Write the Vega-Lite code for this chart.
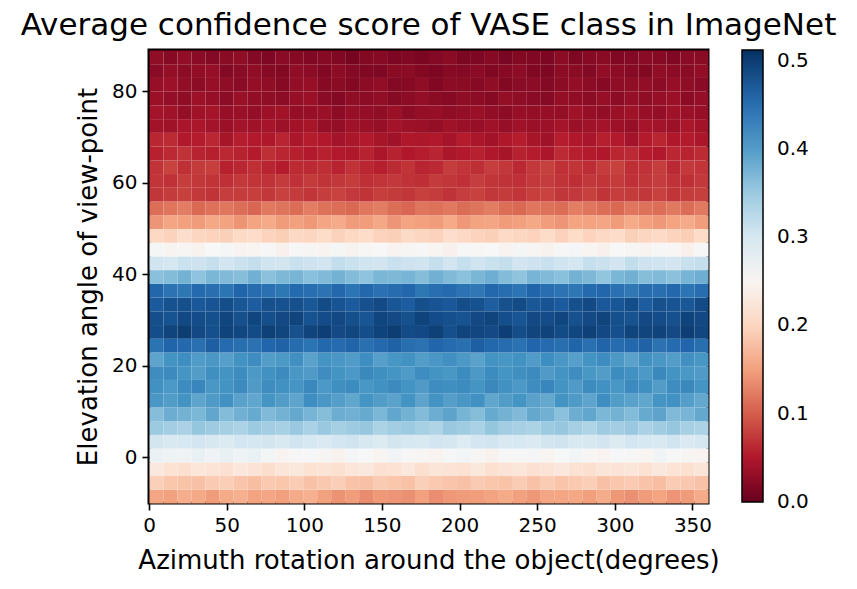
{
"$schema":"https://vega.github.io/schema/vega-lite/v6.json",
"autosize":{"type":"none"},
"padding":{"left":149,"top":50,"right":149,"bottom":86},
"width":559,"height":453,
"background":"white",
"title":{"text":"Average confidence score of VASE class in ImageNet","fontSize":31,"font":"DejaVu Sans","fontWeight":"normal","color":"black","anchor":"middle","offset":8},
"config":{"view":{"stroke":"black","strokeWidth":3},
"axis":{"domain":false,"grid":false,"tickColor":"black","tickWidth":1.6,"tickSize":7,"labelFont":"DejaVu Sans","labelFontSize":20,"labelColor":"black","titleFont":"DejaVu Sans","titleFontSize":26,"titleFontWeight":"normal","titleColor":"black","labelFlush":false,"labelOverlap":false,"labelPadding":5}},
"data":{"values":[
{"az":0,"el":-10,"s":0.155},{"az":9,"el":-10,"s":0.151},{"az":18,"el":-10,"s":0.161},{"az":27,"el":-10,"s":0.157},{"az":36,"el":-10,"s":0.146},{"az":45,"el":-10,"s":0.158},{"az":54,"el":-10,"s":0.163},{"az":63,"el":-10,"s":0.152},{"az":72,"el":-10,"s":0.155},{"az":81,"el":-10,"s":0.149},{"az":90,"el":-10,"s":0.159},{"az":99,"el":-10,"s":0.164},{"az":108,"el":-10,"s":0.151},{"az":117,"el":-10,"s":0.140},{"az":126,"el":-10,"s":0.148},{"az":135,"el":-10,"s":0.134},{"az":144,"el":-10,"s":0.145},{"az":153,"el":-10,"s":0.142},{"az":162,"el":-10,"s":0.139},{"az":171,"el":-10,"s":0.150},{"az":180,"el":-10,"s":0.136},{"az":189,"el":-10,"s":0.144},{"az":198,"el":-10,"s":0.146},{"az":207,"el":-10,"s":0.148},{"az":216,"el":-10,"s":0.152},{"az":225,"el":-10,"s":0.158},{"az":234,"el":-10,"s":0.150},{"az":243,"el":-10,"s":0.144},{"az":252,"el":-10,"s":0.155},{"az":261,"el":-10,"s":0.154},{"az":270,"el":-10,"s":0.156},{"az":279,"el":-10,"s":0.149},{"az":288,"el":-10,"s":0.160},{"az":297,"el":-10,"s":0.144},{"az":306,"el":-10,"s":0.138},{"az":315,"el":-10,"s":0.147},{"az":324,"el":-10,"s":0.153},{"az":333,"el":-10,"s":0.142},{"az":342,"el":-10,"s":0.147},{"az":351,"el":-10,"s":0.159},
{"az":0,"el":-7,"s":0.194},{"az":9,"el":-7,"s":0.185},{"az":18,"el":-7,"s":0.182},{"az":27,"el":-7,"s":0.179},{"az":36,"el":-7,"s":0.189},{"az":45,"el":-7,"s":0.193},{"az":54,"el":-7,"s":0.183},{"az":63,"el":-7,"s":0.177},{"az":72,"el":-7,"s":0.188},{"az":81,"el":-7,"s":0.185},{"az":90,"el":-7,"s":0.191},{"az":99,"el":-7,"s":0.181},{"az":108,"el":-7,"s":0.187},{"az":117,"el":-7,"s":0.193},{"az":126,"el":-7,"s":0.182},{"az":135,"el":-7,"s":0.179},{"az":144,"el":-7,"s":0.189},{"az":153,"el":-7,"s":0.185},{"az":162,"el":-7,"s":0.181},{"az":171,"el":-7,"s":0.194},{"az":180,"el":-7,"s":0.188},{"az":189,"el":-7,"s":0.183},{"az":198,"el":-7,"s":0.179},{"az":207,"el":-7,"s":0.189},{"az":216,"el":-7,"s":0.185},{"az":225,"el":-7,"s":0.182},{"az":234,"el":-7,"s":0.191},{"az":243,"el":-7,"s":0.181},{"az":252,"el":-7,"s":0.191},{"az":261,"el":-7,"s":0.183},{"az":270,"el":-7,"s":0.188},{"az":279,"el":-7,"s":0.193},{"az":288,"el":-7,"s":0.179},{"az":297,"el":-7,"s":0.185},{"az":306,"el":-7,"s":0.189},{"az":315,"el":-7,"s":0.182},{"az":324,"el":-7,"s":0.177},{"az":333,"el":-7,"s":0.191},{"az":342,"el":-7,"s":0.187},{"az":351,"el":-7,"s":0.181},
{"az":0,"el":-4,"s":0.229},{"az":9,"el":-4,"s":0.218},{"az":18,"el":-4,"s":0.212},{"az":27,"el":-4,"s":0.224},{"az":36,"el":-4,"s":0.220},{"az":45,"el":-4,"s":0.216},{"az":54,"el":-4,"s":0.226},{"az":63,"el":-4,"s":0.222},{"az":72,"el":-4,"s":0.211},{"az":81,"el":-4,"s":0.223},{"az":90,"el":-4,"s":0.228},{"az":99,"el":-4,"s":0.217},{"az":108,"el":-4,"s":0.220},{"az":117,"el":-4,"s":0.214},{"az":126,"el":-4,"s":0.224},{"az":135,"el":-4,"s":0.229},{"az":144,"el":-4,"s":0.216},{"az":153,"el":-4,"s":0.218},{"az":162,"el":-4,"s":0.226},{"az":171,"el":-4,"s":0.212},{"az":180,"el":-4,"s":0.223},{"az":189,"el":-4,"s":0.220},{"az":198,"el":-4,"s":0.217},{"az":207,"el":-4,"s":0.228},{"az":216,"el":-4,"s":0.214},{"az":225,"el":-4,"s":0.222},{"az":234,"el":-4,"s":0.224},{"az":243,"el":-4,"s":0.216},{"az":252,"el":-4,"s":0.220},{"az":261,"el":-4,"s":0.226},{"az":270,"el":-4,"s":0.218},{"az":279,"el":-4,"s":0.212},{"az":288,"el":-4,"s":0.223},{"az":297,"el":-4,"s":0.222},{"az":306,"el":-4,"s":0.224},{"az":315,"el":-4,"s":0.217},{"az":324,"el":-4,"s":0.228},{"az":333,"el":-4,"s":0.220},{"az":342,"el":-4,"s":0.214},{"az":351,"el":-4,"s":0.223},
{"az":0,"el":-1,"s":0.274},{"az":9,"el":-1,"s":0.270},{"az":18,"el":-1,"s":0.267},{"az":27,"el":-1,"s":0.276},{"az":36,"el":-1,"s":0.266},{"az":45,"el":-1,"s":0.276},{"az":54,"el":-1,"s":0.268},{"az":63,"el":-1,"s":0.273},{"az":72,"el":-1,"s":0.263},{"az":81,"el":-1,"s":0.249},{"az":90,"el":-1,"s":0.255},{"az":99,"el":-1,"s":0.259},{"az":108,"el":-1,"s":0.252},{"az":117,"el":-1,"s":0.247},{"az":126,"el":-1,"s":0.261},{"az":135,"el":-1,"s":0.257},{"az":144,"el":-1,"s":0.251},{"az":153,"el":-1,"s":0.264},{"az":162,"el":-1,"s":0.255},{"az":171,"el":-1,"s":0.252},{"az":180,"el":-1,"s":0.249},{"az":189,"el":-1,"s":0.259},{"az":198,"el":-1,"s":0.263},{"az":207,"el":-1,"s":0.253},{"az":216,"el":-1,"s":0.247},{"az":225,"el":-1,"s":0.258},{"az":234,"el":-1,"s":0.255},{"az":243,"el":-1,"s":0.261},{"az":252,"el":-1,"s":0.251},{"az":261,"el":-1,"s":0.257},{"az":270,"el":-1,"s":0.263},{"az":279,"el":-1,"s":0.252},{"az":288,"el":-1,"s":0.249},{"az":297,"el":-1,"s":0.259},{"az":306,"el":-1,"s":0.255},{"az":315,"el":-1,"s":0.251},{"az":324,"el":-1,"s":0.264},{"az":333,"el":-1,"s":0.258},{"az":342,"el":-1,"s":0.253},{"az":351,"el":-1,"s":0.249},
{"az":0,"el":2,"s":0.304},{"az":9,"el":2,"s":0.296},{"az":18,"el":2,"s":0.300},{"az":27,"el":2,"s":0.306},{"az":36,"el":2,"s":0.298},{"az":45,"el":2,"s":0.292},{"az":54,"el":2,"s":0.303},{"az":63,"el":2,"s":0.302},{"az":72,"el":2,"s":0.304},{"az":81,"el":2,"s":0.297},{"az":90,"el":2,"s":0.308},{"az":99,"el":2,"s":0.300},{"az":108,"el":2,"s":0.294},{"az":117,"el":2,"s":0.303},{"az":126,"el":2,"s":0.309},{"az":135,"el":2,"s":0.298},{"az":144,"el":2,"s":0.292},{"az":153,"el":2,"s":0.304},{"az":162,"el":2,"s":0.300},{"az":171,"el":2,"s":0.296},{"az":180,"el":2,"s":0.306},{"az":189,"el":2,"s":0.302},{"az":198,"el":2,"s":0.291},{"az":207,"el":2,"s":0.303},{"az":216,"el":2,"s":0.308},{"az":225,"el":2,"s":0.297},{"az":234,"el":2,"s":0.300},{"az":243,"el":2,"s":0.294},{"az":252,"el":2,"s":0.304},{"az":261,"el":2,"s":0.309},{"az":270,"el":2,"s":0.296},{"az":279,"el":2,"s":0.298},{"az":288,"el":2,"s":0.306},{"az":297,"el":2,"s":0.292},{"az":306,"el":2,"s":0.303},{"az":315,"el":2,"s":0.300},{"az":324,"el":2,"s":0.297},{"az":333,"el":2,"s":0.308},{"az":342,"el":2,"s":0.294},{"az":351,"el":2,"s":0.302},
{"az":0,"el":5,"s":0.351},{"az":9,"el":5,"s":0.345},{"az":18,"el":5,"s":0.339},{"az":27,"el":5,"s":0.357},{"az":36,"el":5,"s":0.349},{"az":45,"el":5,"s":0.343},{"az":54,"el":5,"s":0.337},{"az":63,"el":5,"s":0.351},{"az":72,"el":5,"s":0.345},{"az":81,"el":5,"s":0.341},{"az":90,"el":5,"s":0.353},{"az":99,"el":5,"s":0.339},{"az":108,"el":5,"s":0.353},{"az":117,"el":5,"s":0.343},{"az":126,"el":5,"s":0.349},{"az":135,"el":5,"s":0.355},{"az":144,"el":5,"s":0.337},{"az":153,"el":5,"s":0.345},{"az":162,"el":5,"s":0.351},{"az":171,"el":5,"s":0.341},{"az":180,"el":5,"s":0.335},{"az":189,"el":5,"s":0.353},{"az":198,"el":5,"s":0.347},{"az":207,"el":5,"s":0.339},{"az":216,"el":5,"s":0.357},{"az":225,"el":5,"s":0.345},{"az":234,"el":5,"s":0.341},{"az":243,"el":5,"s":0.337},{"az":252,"el":5,"s":0.351},{"az":261,"el":5,"s":0.355},{"az":270,"el":5,"s":0.343},{"az":279,"el":5,"s":0.335},{"az":288,"el":5,"s":0.349},{"az":297,"el":5,"s":0.345},{"az":306,"el":5,"s":0.353},{"az":315,"el":5,"s":0.339},{"az":324,"el":5,"s":0.347},{"az":333,"el":5,"s":0.355},{"az":342,"el":5,"s":0.341},{"az":351,"el":5,"s":0.337},
{"az":0,"el":8,"s":0.366},{"az":9,"el":8,"s":0.383},{"az":18,"el":8,"s":0.378},{"az":27,"el":8,"s":0.373},{"az":36,"el":8,"s":0.390},{"az":45,"el":8,"s":0.368},{"az":54,"el":8,"s":0.380},{"az":63,"el":8,"s":0.386},{"az":72,"el":8,"s":0.370},{"az":81,"el":8,"s":0.378},{"az":90,"el":8,"s":0.388},{"az":99,"el":8,"s":0.376},{"az":108,"el":8,"s":0.366},{"az":117,"el":8,"s":0.383},{"az":126,"el":8,"s":0.380},{"az":135,"el":8,"s":0.386},{"az":144,"el":8,"s":0.373},{"az":153,"el":8,"s":0.390},{"az":162,"el":8,"s":0.378},{"az":171,"el":8,"s":0.368},{"az":180,"el":8,"s":0.383},{"az":189,"el":8,"s":0.393},{"az":198,"el":8,"s":0.376},{"az":207,"el":8,"s":0.366},{"az":216,"el":8,"s":0.386},{"az":225,"el":8,"s":0.378},{"az":234,"el":8,"s":0.370},{"az":243,"el":8,"s":0.388},{"az":252,"el":8,"s":0.380},{"az":261,"el":8,"s":0.363},{"az":270,"el":8,"s":0.383},{"az":279,"el":8,"s":0.390},{"az":288,"el":8,"s":0.373},{"az":297,"el":8,"s":0.378},{"az":306,"el":8,"s":0.368},{"az":315,"el":8,"s":0.386},{"az":324,"el":8,"s":0.393},{"az":333,"el":8,"s":0.370},{"az":342,"el":8,"s":0.376},{"az":351,"el":8,"s":0.388},
{"az":0,"el":11,"s":0.405},{"az":9,"el":11,"s":0.400},{"az":18,"el":11,"s":0.410},{"az":27,"el":11,"s":0.392},{"az":36,"el":11,"s":0.402},{"az":45,"el":11,"s":0.412},{"az":54,"el":11,"s":0.395},{"az":63,"el":11,"s":0.390},{"az":72,"el":11,"s":0.408},{"az":81,"el":11,"s":0.400},{"az":90,"el":11,"s":0.392},{"az":99,"el":11,"s":0.415},{"az":108,"el":11,"s":0.405},{"az":117,"el":11,"s":0.398},{"az":126,"el":11,"s":0.390},{"az":135,"el":11,"s":0.408},{"az":144,"el":11,"s":0.400},{"az":153,"el":11,"s":0.395},{"az":162,"el":11,"s":0.410},{"az":171,"el":11,"s":0.392},{"az":180,"el":11,"s":0.410},{"az":189,"el":11,"s":0.398},{"az":198,"el":11,"s":0.405},{"az":207,"el":11,"s":0.412},{"az":216,"el":11,"s":0.390},{"az":225,"el":11,"s":0.400},{"az":234,"el":11,"s":0.408},{"az":243,"el":11,"s":0.395},{"az":252,"el":11,"s":0.388},{"az":261,"el":11,"s":0.410},{"az":270,"el":11,"s":0.402},{"az":279,"el":11,"s":0.392},{"az":288,"el":11,"s":0.415},{"az":297,"el":11,"s":0.400},{"az":306,"el":11,"s":0.395},{"az":315,"el":11,"s":0.390},{"az":324,"el":11,"s":0.408},{"az":333,"el":11,"s":0.412},{"az":342,"el":11,"s":0.398},{"az":351,"el":11,"s":0.388},
{"az":0,"el":14,"s":0.412},{"az":9,"el":14,"s":0.404},{"az":18,"el":14,"s":0.418},{"az":27,"el":14,"s":0.424},{"az":36,"el":14,"s":0.406},{"az":45,"el":14,"s":0.410},{"az":54,"el":14,"s":0.420},{"az":63,"el":14,"s":0.402},{"az":72,"el":14,"s":0.416},{"az":81,"el":14,"s":0.412},{"az":90,"el":14,"s":0.408},{"az":99,"el":14,"s":0.422},{"az":108,"el":14,"s":0.404},{"az":117,"el":14,"s":0.414},{"az":126,"el":14,"s":0.418},{"az":135,"el":14,"s":0.406},{"az":144,"el":14,"s":0.412},{"az":153,"el":14,"s":0.420},{"az":162,"el":14,"s":0.410},{"az":171,"el":14,"s":0.402},{"az":180,"el":14,"s":0.416},{"az":189,"el":14,"s":0.414},{"az":198,"el":14,"s":0.418},{"az":207,"el":14,"s":0.408},{"az":216,"el":14,"s":0.422},{"az":225,"el":14,"s":0.412},{"az":234,"el":14,"s":0.404},{"az":243,"el":14,"s":0.416},{"az":252,"el":14,"s":0.424},{"az":261,"el":14,"s":0.410},{"az":270,"el":14,"s":0.402},{"az":279,"el":14,"s":0.418},{"az":288,"el":14,"s":0.412},{"az":297,"el":14,"s":0.406},{"az":306,"el":14,"s":0.420},{"az":315,"el":14,"s":0.414},{"az":324,"el":14,"s":0.400},{"az":333,"el":14,"s":0.416},{"az":342,"el":14,"s":0.422},{"az":351,"el":14,"s":0.408},
{"az":0,"el":17,"s":0.416},{"az":9,"el":17,"s":0.420},{"az":18,"el":17,"s":0.408},{"az":27,"el":17,"s":0.400},{"az":36,"el":17,"s":0.414},{"az":45,"el":17,"s":0.410},{"az":54,"el":17,"s":0.418},{"az":63,"el":17,"s":0.404},{"az":72,"el":17,"s":0.412},{"az":81,"el":17,"s":0.420},{"az":90,"el":17,"s":0.406},{"az":99,"el":17,"s":0.402},{"az":108,"el":17,"s":0.416},{"az":117,"el":17,"s":0.410},{"az":126,"el":17,"s":0.404},{"az":135,"el":17,"s":0.422},{"az":144,"el":17,"s":0.414},{"az":153,"el":17,"s":0.408},{"az":162,"el":17,"s":0.402},{"az":171,"el":17,"s":0.416},{"az":180,"el":17,"s":0.410},{"az":189,"el":17,"s":0.406},{"az":198,"el":17,"s":0.418},{"az":207,"el":17,"s":0.404},{"az":216,"el":17,"s":0.418},{"az":225,"el":17,"s":0.408},{"az":234,"el":17,"s":0.414},{"az":243,"el":17,"s":0.420},{"az":252,"el":17,"s":0.402},{"az":261,"el":17,"s":0.410},{"az":270,"el":17,"s":0.416},{"az":279,"el":17,"s":0.406},{"az":288,"el":17,"s":0.400},{"az":297,"el":17,"s":0.418},{"az":306,"el":17,"s":0.412},{"az":315,"el":17,"s":0.404},{"az":324,"el":17,"s":0.422},{"az":333,"el":17,"s":0.410},{"az":342,"el":17,"s":0.406},{"az":351,"el":17,"s":0.402},
{"az":0,"el":20,"s":0.393},{"az":9,"el":20,"s":0.409},{"az":18,"el":20,"s":0.415},{"az":27,"el":20,"s":0.401},{"az":36,"el":20,"s":0.405},{"az":45,"el":20,"s":0.397},{"az":54,"el":20,"s":0.411},{"az":63,"el":20,"s":0.417},{"az":72,"el":20,"s":0.399},{"az":81,"el":20,"s":0.403},{"az":90,"el":20,"s":0.413},{"az":99,"el":20,"s":0.395},{"az":108,"el":20,"s":0.409},{"az":117,"el":20,"s":0.405},{"az":126,"el":20,"s":0.401},{"az":135,"el":20,"s":0.415},{"az":144,"el":20,"s":0.397},{"az":153,"el":20,"s":0.407},{"az":162,"el":20,"s":0.411},{"az":171,"el":20,"s":0.399},{"az":180,"el":20,"s":0.405},{"az":189,"el":20,"s":0.413},{"az":198,"el":20,"s":0.403},{"az":207,"el":20,"s":0.395},{"az":216,"el":20,"s":0.409},{"az":225,"el":20,"s":0.407},{"az":234,"el":20,"s":0.411},{"az":243,"el":20,"s":0.401},{"az":252,"el":20,"s":0.415},{"az":261,"el":20,"s":0.405},{"az":270,"el":20,"s":0.397},{"az":279,"el":20,"s":0.409},{"az":288,"el":20,"s":0.417},{"az":297,"el":20,"s":0.403},{"az":306,"el":20,"s":0.395},{"az":315,"el":20,"s":0.411},{"az":324,"el":20,"s":0.405},{"az":333,"el":20,"s":0.399},{"az":342,"el":20,"s":0.413},{"az":351,"el":20,"s":0.407},
{"az":0,"el":23,"s":0.445},{"az":9,"el":23,"s":0.463},{"az":18,"el":23,"s":0.457},{"az":27,"el":23,"s":0.449},{"az":36,"el":23,"s":0.467},{"az":45,"el":23,"s":0.455},{"az":54,"el":23,"s":0.451},{"az":63,"el":23,"s":0.447},{"az":72,"el":23,"s":0.461},{"az":81,"el":23,"s":0.465},{"az":90,"el":23,"s":0.453},{"az":99,"el":23,"s":0.445},{"az":108,"el":23,"s":0.459},{"az":117,"el":23,"s":0.455},{"az":126,"el":23,"s":0.463},{"az":135,"el":23,"s":0.449},{"az":144,"el":23,"s":0.457},{"az":153,"el":23,"s":0.465},{"az":162,"el":23,"s":0.451},{"az":171,"el":23,"s":0.447},{"az":180,"el":23,"s":0.461},{"az":189,"el":23,"s":0.455},{"az":198,"el":23,"s":0.449},{"az":207,"el":23,"s":0.467},{"az":216,"el":23,"s":0.459},{"az":225,"el":23,"s":0.453},{"az":234,"el":23,"s":0.447},{"az":243,"el":23,"s":0.461},{"az":252,"el":23,"s":0.455},{"az":261,"el":23,"s":0.451},{"az":270,"el":23,"s":0.463},{"az":279,"el":23,"s":0.449},{"az":288,"el":23,"s":0.463},{"az":297,"el":23,"s":0.453},{"az":306,"el":23,"s":0.459},{"az":315,"el":23,"s":0.465},{"az":324,"el":23,"s":0.447},{"az":333,"el":23,"s":0.455},{"az":342,"el":23,"s":0.461},{"az":351,"el":23,"s":0.451},
{"az":0,"el":26,"s":0.484},{"az":9,"el":26,"s":0.493},{"az":18,"el":26,"s":0.499},{"az":27,"el":26,"s":0.488},{"az":36,"el":26,"s":0.482},{"az":45,"el":26,"s":0.494},{"az":54,"el":26,"s":0.490},{"az":63,"el":26,"s":0.486},{"az":72,"el":26,"s":0.496},{"az":81,"el":26,"s":0.492},{"az":90,"el":26,"s":0.481},{"az":99,"el":26,"s":0.493},{"az":108,"el":26,"s":0.498},{"az":117,"el":26,"s":0.487},{"az":126,"el":26,"s":0.490},{"az":135,"el":26,"s":0.484},{"az":144,"el":26,"s":0.494},{"az":153,"el":26,"s":0.499},{"az":162,"el":26,"s":0.486},{"az":171,"el":26,"s":0.488},{"az":180,"el":26,"s":0.496},{"az":189,"el":26,"s":0.482},{"az":198,"el":26,"s":0.493},{"az":207,"el":26,"s":0.490},{"az":216,"el":26,"s":0.487},{"az":225,"el":26,"s":0.498},{"az":234,"el":26,"s":0.484},{"az":243,"el":26,"s":0.492},{"az":252,"el":26,"s":0.494},{"az":261,"el":26,"s":0.486},{"az":270,"el":26,"s":0.490},{"az":279,"el":26,"s":0.496},{"az":288,"el":26,"s":0.488},{"az":297,"el":26,"s":0.482},{"az":306,"el":26,"s":0.493},{"az":315,"el":26,"s":0.492},{"az":324,"el":26,"s":0.494},{"az":333,"el":26,"s":0.487},{"az":342,"el":26,"s":0.498},{"az":351,"el":26,"s":0.490},
{"az":0,"el":29,"s":0.483},{"az":9,"el":29,"s":0.479},{"az":18,"el":29,"s":0.489},{"az":27,"el":29,"s":0.485},{"az":36,"el":29,"s":0.482},{"az":45,"el":29,"s":0.491},{"az":54,"el":29,"s":0.481},{"az":63,"el":29,"s":0.491},{"az":72,"el":29,"s":0.483},{"az":81,"el":29,"s":0.488},{"az":90,"el":29,"s":0.493},{"az":99,"el":29,"s":0.479},{"az":108,"el":29,"s":0.485},{"az":117,"el":29,"s":0.489},{"az":126,"el":29,"s":0.482},{"az":135,"el":29,"s":0.477},{"az":144,"el":29,"s":0.491},{"az":153,"el":29,"s":0.487},{"az":162,"el":29,"s":0.481},{"az":171,"el":29,"s":0.494},{"az":180,"el":29,"s":0.485},{"az":189,"el":29,"s":0.482},{"az":198,"el":29,"s":0.479},{"az":207,"el":29,"s":0.489},{"az":216,"el":29,"s":0.493},{"az":225,"el":29,"s":0.483},{"az":234,"el":29,"s":0.477},{"az":243,"el":29,"s":0.488},{"az":252,"el":29,"s":0.485},{"az":261,"el":29,"s":0.491},{"az":270,"el":29,"s":0.481},{"az":279,"el":29,"s":0.487},{"az":288,"el":29,"s":0.493},{"az":297,"el":29,"s":0.482},{"az":306,"el":29,"s":0.479},{"az":315,"el":29,"s":0.489},{"az":324,"el":29,"s":0.485},{"az":333,"el":29,"s":0.481},{"az":342,"el":29,"s":0.494},{"az":351,"el":29,"s":0.488},
{"az":0,"el":32,"s":0.472},{"az":9,"el":32,"s":0.480},{"az":18,"el":32,"s":0.482},{"az":27,"el":32,"s":0.474},{"az":36,"el":32,"s":0.478},{"az":45,"el":32,"s":0.484},{"az":54,"el":32,"s":0.476},{"az":63,"el":32,"s":0.470},{"az":72,"el":32,"s":0.481},{"az":81,"el":32,"s":0.480},{"az":90,"el":32,"s":0.482},{"az":99,"el":32,"s":0.475},{"az":108,"el":32,"s":0.486},{"az":117,"el":32,"s":0.478},{"az":126,"el":32,"s":0.472},{"az":135,"el":32,"s":0.481},{"az":144,"el":32,"s":0.487},{"az":153,"el":32,"s":0.476},{"az":162,"el":32,"s":0.470},{"az":171,"el":32,"s":0.482},{"az":180,"el":32,"s":0.478},{"az":189,"el":32,"s":0.474},{"az":198,"el":32,"s":0.484},{"az":207,"el":32,"s":0.480},{"az":216,"el":32,"s":0.469},{"az":225,"el":32,"s":0.481},{"az":234,"el":32,"s":0.486},{"az":243,"el":32,"s":0.475},{"az":252,"el":32,"s":0.478},{"az":261,"el":32,"s":0.472},{"az":270,"el":32,"s":0.482},{"az":279,"el":32,"s":0.487},{"az":288,"el":32,"s":0.474},{"az":297,"el":32,"s":0.476},{"az":306,"el":32,"s":0.484},{"az":315,"el":32,"s":0.470},{"az":324,"el":32,"s":0.481},{"az":333,"el":32,"s":0.478},{"az":342,"el":32,"s":0.475},{"az":351,"el":32,"s":0.486},
{"az":0,"el":35,"s":0.460},{"az":9,"el":35,"s":0.446},{"az":18,"el":35,"s":0.442},{"az":27,"el":35,"s":0.456},{"az":36,"el":35,"s":0.450},{"az":45,"el":35,"s":0.444},{"az":54,"el":35,"s":0.462},{"az":63,"el":35,"s":0.454},{"az":72,"el":35,"s":0.448},{"az":81,"el":35,"s":0.442},{"az":90,"el":35,"s":0.456},{"az":99,"el":35,"s":0.450},{"az":108,"el":35,"s":0.446},{"az":117,"el":35,"s":0.458},{"az":126,"el":35,"s":0.444},{"az":135,"el":35,"s":0.458},{"az":144,"el":35,"s":0.448},{"az":153,"el":35,"s":0.454},{"az":162,"el":35,"s":0.460},{"az":171,"el":35,"s":0.442},{"az":180,"el":35,"s":0.450},{"az":189,"el":35,"s":0.456},{"az":198,"el":35,"s":0.446},{"az":207,"el":35,"s":0.440},{"az":216,"el":35,"s":0.458},{"az":225,"el":35,"s":0.452},{"az":234,"el":35,"s":0.444},{"az":243,"el":35,"s":0.462},{"az":252,"el":35,"s":0.450},{"az":261,"el":35,"s":0.446},{"az":270,"el":35,"s":0.442},{"az":279,"el":35,"s":0.456},{"az":288,"el":35,"s":0.460},{"az":297,"el":35,"s":0.448},{"az":306,"el":35,"s":0.440},{"az":315,"el":35,"s":0.454},{"az":324,"el":35,"s":0.450},{"az":333,"el":35,"s":0.458},{"az":342,"el":35,"s":0.444},{"az":351,"el":35,"s":0.452},
{"az":0,"el":38,"s":0.364},{"az":9,"el":38,"s":0.368},{"az":18,"el":38,"s":0.378},{"az":27,"el":38,"s":0.360},{"az":36,"el":38,"s":0.374},{"az":45,"el":38,"s":0.370},{"az":54,"el":38,"s":0.366},{"az":63,"el":38,"s":0.380},{"az":72,"el":38,"s":0.362},{"az":81,"el":38,"s":0.372},{"az":90,"el":38,"s":0.376},{"az":99,"el":38,"s":0.364},{"az":108,"el":38,"s":0.370},{"az":117,"el":38,"s":0.378},{"az":126,"el":38,"s":0.368},{"az":135,"el":38,"s":0.360},{"az":144,"el":38,"s":0.374},{"az":153,"el":38,"s":0.372},{"az":162,"el":38,"s":0.376},{"az":171,"el":38,"s":0.366},{"az":180,"el":38,"s":0.380},{"az":189,"el":38,"s":0.370},{"az":198,"el":38,"s":0.362},{"az":207,"el":38,"s":0.374},{"az":216,"el":38,"s":0.382},{"az":225,"el":38,"s":0.368},{"az":234,"el":38,"s":0.360},{"az":243,"el":38,"s":0.376},{"az":252,"el":38,"s":0.370},{"az":261,"el":38,"s":0.364},{"az":270,"el":38,"s":0.378},{"az":279,"el":38,"s":0.372},{"az":288,"el":38,"s":0.358},{"az":297,"el":38,"s":0.374},{"az":306,"el":38,"s":0.380},{"az":315,"el":38,"s":0.366},{"az":324,"el":38,"s":0.370},{"az":333,"el":38,"s":0.362},{"az":342,"el":38,"s":0.376},{"az":351,"el":38,"s":0.382},
{"az":0,"el":41,"s":0.308},{"az":9,"el":41,"s":0.302},{"az":18,"el":41,"s":0.313},{"az":27,"el":41,"s":0.310},{"az":36,"el":41,"s":0.316},{"az":45,"el":41,"s":0.306},{"az":54,"el":41,"s":0.312},{"az":63,"el":41,"s":0.318},{"az":72,"el":41,"s":0.307},{"az":81,"el":41,"s":0.304},{"az":90,"el":41,"s":0.314},{"az":99,"el":41,"s":0.310},{"az":108,"el":41,"s":0.306},{"az":117,"el":41,"s":0.319},{"az":126,"el":41,"s":0.313},{"az":135,"el":41,"s":0.308},{"az":144,"el":41,"s":0.304},{"az":153,"el":41,"s":0.314},{"az":162,"el":41,"s":0.310},{"az":171,"el":41,"s":0.307},{"az":180,"el":41,"s":0.316},{"az":189,"el":41,"s":0.306},{"az":198,"el":41,"s":0.316},{"az":207,"el":41,"s":0.308},{"az":216,"el":41,"s":0.313},{"az":225,"el":41,"s":0.318},{"az":234,"el":41,"s":0.304},{"az":243,"el":41,"s":0.310},{"az":252,"el":41,"s":0.314},{"az":261,"el":41,"s":0.307},{"az":270,"el":41,"s":0.302},{"az":279,"el":41,"s":0.316},{"az":288,"el":41,"s":0.312},{"az":297,"el":41,"s":0.306},{"az":306,"el":41,"s":0.319},{"az":315,"el":41,"s":0.310},{"az":324,"el":41,"s":0.307},{"az":333,"el":41,"s":0.304},{"az":342,"el":41,"s":0.314},{"az":351,"el":41,"s":0.318},
{"az":0,"el":44,"s":0.260},{"az":9,"el":44,"s":0.249},{"az":18,"el":44,"s":0.252},{"az":27,"el":44,"s":0.246},{"az":36,"el":44,"s":0.256},{"az":45,"el":44,"s":0.261},{"az":54,"el":44,"s":0.248},{"az":63,"el":44,"s":0.250},{"az":72,"el":44,"s":0.258},{"az":81,"el":44,"s":0.244},{"az":90,"el":44,"s":0.255},{"az":99,"el":44,"s":0.252},{"az":108,"el":44,"s":0.249},{"az":117,"el":44,"s":0.260},{"az":126,"el":44,"s":0.246},{"az":135,"el":44,"s":0.254},{"az":144,"el":44,"s":0.256},{"az":153,"el":44,"s":0.248},{"az":162,"el":44,"s":0.252},{"az":171,"el":44,"s":0.258},{"az":180,"el":44,"s":0.250},{"az":189,"el":44,"s":0.244},{"az":198,"el":44,"s":0.255},{"az":207,"el":44,"s":0.254},{"az":216,"el":44,"s":0.256},{"az":225,"el":44,"s":0.249},{"az":234,"el":44,"s":0.260},{"az":243,"el":44,"s":0.252},{"az":252,"el":44,"s":0.246},{"az":261,"el":44,"s":0.255},{"az":270,"el":44,"s":0.261},{"az":279,"el":44,"s":0.250},{"az":288,"el":44,"s":0.244},{"az":297,"el":44,"s":0.256},{"az":306,"el":44,"s":0.252},{"az":315,"el":44,"s":0.248},{"az":324,"el":44,"s":0.258},{"az":333,"el":44,"s":0.254},{"az":342,"el":44,"s":0.243},{"az":351,"el":44,"s":0.255},
{"az":0,"el":47,"s":0.202},{"az":9,"el":47,"s":0.196},{"az":18,"el":47,"s":0.209},{"az":27,"el":47,"s":0.200},{"az":36,"el":47,"s":0.197},{"az":45,"el":47,"s":0.194},{"az":54,"el":47,"s":0.204},{"az":63,"el":47,"s":0.208},{"az":72,"el":47,"s":0.198},{"az":81,"el":47,"s":0.192},{"az":90,"el":47,"s":0.203},{"az":99,"el":47,"s":0.200},{"az":108,"el":47,"s":0.206},{"az":117,"el":47,"s":0.196},{"az":126,"el":47,"s":0.202},{"az":135,"el":47,"s":0.208},{"az":144,"el":47,"s":0.197},{"az":153,"el":47,"s":0.194},{"az":162,"el":47,"s":0.204},{"az":171,"el":47,"s":0.200},{"az":180,"el":47,"s":0.196},{"az":189,"el":47,"s":0.209},{"az":198,"el":47,"s":0.203},{"az":207,"el":47,"s":0.198},{"az":216,"el":47,"s":0.194},{"az":225,"el":47,"s":0.204},{"az":234,"el":47,"s":0.200},{"az":243,"el":47,"s":0.197},{"az":252,"el":47,"s":0.206},{"az":261,"el":47,"s":0.196},{"az":270,"el":47,"s":0.206},{"az":279,"el":47,"s":0.198},{"az":288,"el":47,"s":0.203},{"az":297,"el":47,"s":0.208},{"az":306,"el":47,"s":0.194},{"az":315,"el":47,"s":0.200},{"az":324,"el":47,"s":0.204},{"az":333,"el":47,"s":0.197},{"az":342,"el":47,"s":0.192},{"az":351,"el":47,"s":0.206},
{"az":0,"el":50,"s":0.142},{"az":9,"el":50,"s":0.154},{"az":18,"el":50,"s":0.150},{"az":27,"el":50,"s":0.146},{"az":36,"el":50,"s":0.156},{"az":45,"el":50,"s":0.152},{"az":54,"el":50,"s":0.141},{"az":63,"el":50,"s":0.153},{"az":72,"el":50,"s":0.158},{"az":81,"el":50,"s":0.147},{"az":90,"el":50,"s":0.150},{"az":99,"el":50,"s":0.144},{"az":108,"el":50,"s":0.154},{"az":117,"el":50,"s":0.159},{"az":126,"el":50,"s":0.146},{"az":135,"el":50,"s":0.148},{"az":144,"el":50,"s":0.156},{"az":153,"el":50,"s":0.142},{"az":162,"el":50,"s":0.153},{"az":171,"el":50,"s":0.150},{"az":180,"el":50,"s":0.147},{"az":189,"el":50,"s":0.158},{"az":198,"el":50,"s":0.144},{"az":207,"el":50,"s":0.152},{"az":216,"el":50,"s":0.154},{"az":225,"el":50,"s":0.146},{"az":234,"el":50,"s":0.150},{"az":243,"el":50,"s":0.156},{"az":252,"el":50,"s":0.148},{"az":261,"el":50,"s":0.142},{"az":270,"el":50,"s":0.153},{"az":279,"el":50,"s":0.152},{"az":288,"el":50,"s":0.154},{"az":297,"el":50,"s":0.147},{"az":306,"el":50,"s":0.158},{"az":315,"el":50,"s":0.150},{"az":324,"el":50,"s":0.144},{"az":333,"el":50,"s":0.153},{"az":342,"el":50,"s":0.159},{"az":351,"el":50,"s":0.148},
{"az":0,"el":53,"s":0.113},{"az":9,"el":53,"s":0.118},{"az":18,"el":53,"s":0.123},{"az":27,"el":53,"s":0.109},{"az":36,"el":53,"s":0.115},{"az":45,"el":53,"s":0.119},{"az":54,"el":53,"s":0.112},{"az":63,"el":53,"s":0.107},{"az":72,"el":53,"s":0.121},{"az":81,"el":53,"s":0.117},{"az":90,"el":53,"s":0.111},{"az":99,"el":53,"s":0.124},{"az":108,"el":53,"s":0.115},{"az":117,"el":53,"s":0.112},{"az":126,"el":53,"s":0.109},{"az":135,"el":53,"s":0.119},{"az":144,"el":53,"s":0.123},{"az":153,"el":53,"s":0.113},{"az":162,"el":53,"s":0.107},{"az":171,"el":53,"s":0.118},{"az":180,"el":53,"s":0.115},{"az":189,"el":53,"s":0.121},{"az":198,"el":53,"s":0.111},{"az":207,"el":53,"s":0.117},{"az":216,"el":53,"s":0.123},{"az":225,"el":53,"s":0.112},{"az":234,"el":53,"s":0.109},{"az":243,"el":53,"s":0.119},{"az":252,"el":53,"s":0.115},{"az":261,"el":53,"s":0.111},{"az":270,"el":53,"s":0.124},{"az":279,"el":53,"s":0.118},{"az":288,"el":53,"s":0.113},{"az":297,"el":53,"s":0.109},{"az":306,"el":53,"s":0.119},{"az":315,"el":53,"s":0.115},{"az":324,"el":53,"s":0.112},{"az":333,"el":53,"s":0.121},{"az":342,"el":53,"s":0.111},{"az":351,"el":53,"s":0.121},
{"az":0,"el":56,"s":0.073},{"az":9,"el":56,"s":0.076},{"az":18,"el":56,"s":0.080},{"az":27,"el":56,"s":0.075},{"az":36,"el":56,"s":0.071},{"az":45,"el":56,"s":0.078},{"az":54,"el":56,"s":0.077},{"az":63,"el":56,"s":0.079},{"az":72,"el":56,"s":0.074},{"az":81,"el":56,"s":0.081},{"az":90,"el":56,"s":0.076},{"az":99,"el":56,"s":0.072},{"az":108,"el":56,"s":0.078},{"az":117,"el":56,"s":0.082},{"az":126,"el":56,"s":0.075},{"az":135,"el":56,"s":0.071},{"az":144,"el":56,"s":0.079},{"az":153,"el":56,"s":0.076},{"az":162,"el":56,"s":0.073},{"az":171,"el":56,"s":0.080},{"az":180,"el":56,"s":0.077},{"az":189,"el":56,"s":0.070},{"az":198,"el":56,"s":0.078},{"az":207,"el":56,"s":0.081},{"az":216,"el":56,"s":0.074},{"az":225,"el":56,"s":0.076},{"az":234,"el":56,"s":0.072},{"az":243,"el":56,"s":0.079},{"az":252,"el":56,"s":0.082},{"az":261,"el":56,"s":0.073},{"az":270,"el":56,"s":0.075},{"az":279,"el":56,"s":0.080},{"az":288,"el":56,"s":0.071},{"az":297,"el":56,"s":0.078},{"az":306,"el":56,"s":0.076},{"az":315,"el":56,"s":0.074},{"az":324,"el":56,"s":0.081},{"az":333,"el":56,"s":0.072},{"az":342,"el":56,"s":0.077},{"az":351,"el":56,"s":0.079},
{"az":0,"el":59,"s":0.072},{"az":9,"el":59,"s":0.069},{"az":18,"el":59,"s":0.078},{"az":27,"el":59,"s":0.074},{"az":36,"el":59,"s":0.071},{"az":45,"el":59,"s":0.068},{"az":54,"el":59,"s":0.075},{"az":63,"el":59,"s":0.072},{"az":72,"el":59,"s":0.070},{"az":81,"el":59,"s":0.076},{"az":90,"el":59,"s":0.069},{"az":99,"el":59,"s":0.076},{"az":108,"el":59,"s":0.071},{"az":117,"el":59,"s":0.074},{"az":126,"el":59,"s":0.077},{"az":135,"el":59,"s":0.068},{"az":144,"el":59,"s":0.072},{"az":153,"el":59,"s":0.075},{"az":162,"el":59,"s":0.070},{"az":171,"el":59,"s":0.067},{"az":180,"el":59,"s":0.076},{"az":189,"el":59,"s":0.073},{"az":198,"el":59,"s":0.069},{"az":207,"el":59,"s":0.078},{"az":216,"el":59,"s":0.072},{"az":225,"el":59,"s":0.070},{"az":234,"el":59,"s":0.068},{"az":243,"el":59,"s":0.075},{"az":252,"el":59,"s":0.077},{"az":261,"el":59,"s":0.071},{"az":270,"el":59,"s":0.067},{"az":279,"el":59,"s":0.074},{"az":288,"el":59,"s":0.072},{"az":297,"el":59,"s":0.076},{"az":306,"el":59,"s":0.069},{"az":315,"el":59,"s":0.073},{"az":324,"el":59,"s":0.077},{"az":333,"el":59,"s":0.070},{"az":342,"el":59,"s":0.068},{"az":351,"el":59,"s":0.075},
{"az":0,"el":62,"s":0.071},{"az":9,"el":62,"s":0.082},{"az":18,"el":62,"s":0.068},{"az":27,"el":62,"s":0.076},{"az":36,"el":62,"s":0.079},{"az":45,"el":62,"s":0.057},{"az":54,"el":62,"s":0.062},{"az":63,"el":62,"s":0.068},{"az":72,"el":62,"s":0.060},{"az":81,"el":62,"s":0.054},{"az":90,"el":62,"s":0.065},{"az":99,"el":62,"s":0.064},{"az":108,"el":62,"s":0.067},{"az":117,"el":62,"s":0.059},{"az":126,"el":62,"s":0.070},{"az":135,"el":62,"s":0.062},{"az":144,"el":62,"s":0.056},{"az":153,"el":62,"s":0.065},{"az":162,"el":62,"s":0.071},{"az":171,"el":62,"s":0.060},{"az":180,"el":62,"s":0.064},{"az":189,"el":62,"s":0.077},{"az":198,"el":62,"s":0.072},{"az":207,"el":62,"s":0.067},{"az":216,"el":62,"s":0.078},{"az":225,"el":62,"s":0.074},{"az":234,"el":62,"s":0.063},{"az":243,"el":62,"s":0.075},{"az":252,"el":62,"s":0.080},{"az":261,"el":62,"s":0.069},{"az":270,"el":62,"s":0.072},{"az":279,"el":62,"s":0.066},{"az":288,"el":62,"s":0.077},{"az":297,"el":62,"s":0.081},{"az":306,"el":62,"s":0.067},{"az":315,"el":62,"s":0.070},{"az":324,"el":62,"s":0.078},{"az":333,"el":62,"s":0.064},{"az":342,"el":62,"s":0.075},{"az":351,"el":62,"s":0.072},
{"az":0,"el":65,"s":0.057},{"az":9,"el":65,"s":0.064},{"az":18,"el":65,"s":0.070},{"az":27,"el":65,"s":0.059},{"az":36,"el":65,"s":0.056},{"az":45,"el":65,"s":0.063},{"az":54,"el":65,"s":0.058},{"az":63,"el":65,"s":0.053},{"az":72,"el":65,"s":0.067},{"az":81,"el":65,"s":0.061},{"az":90,"el":65,"s":0.056},{"az":99,"el":65,"s":0.052},{"az":108,"el":65,"s":0.057},{"az":117,"el":65,"s":0.052},{"az":126,"el":65,"s":0.049},{"az":135,"el":65,"s":0.058},{"az":144,"el":65,"s":0.047},{"az":153,"el":65,"s":0.058},{"az":162,"el":65,"s":0.050},{"az":171,"el":65,"s":0.055},{"az":180,"el":65,"s":0.060},{"az":189,"el":65,"s":0.046},{"az":198,"el":65,"s":0.052},{"az":207,"el":65,"s":0.057},{"az":216,"el":65,"s":0.049},{"az":225,"el":65,"s":0.044},{"az":234,"el":65,"s":0.058},{"az":243,"el":65,"s":0.054},{"az":252,"el":65,"s":0.047},{"az":261,"el":65,"s":0.065},{"az":270,"el":65,"s":0.056},{"az":279,"el":65,"s":0.053},{"az":288,"el":65,"s":0.050},{"az":297,"el":65,"s":0.061},{"az":306,"el":65,"s":0.064},{"az":315,"el":65,"s":0.054},{"az":324,"el":65,"s":0.051},{"az":333,"el":65,"s":0.062},{"az":342,"el":65,"s":0.059},{"az":351,"el":65,"s":0.065},
{"az":0,"el":68,"s":0.061},{"az":9,"el":68,"s":0.065},{"az":18,"el":68,"s":0.051},{"az":27,"el":68,"s":0.054},{"az":36,"el":68,"s":0.062},{"az":45,"el":68,"s":0.044},{"az":54,"el":68,"s":0.055},{"az":63,"el":68,"s":0.052},{"az":72,"el":68,"s":0.049},{"az":81,"el":68,"s":0.060},{"az":90,"el":68,"s":0.046},{"az":99,"el":68,"s":0.054},{"az":108,"el":68,"s":0.051},{"az":117,"el":68,"s":0.041},{"az":126,"el":68,"s":0.046},{"az":135,"el":68,"s":0.052},{"az":144,"el":68,"s":0.044},{"az":153,"el":68,"s":0.038},{"az":162,"el":68,"s":0.049},{"az":171,"el":68,"s":0.048},{"az":180,"el":68,"s":0.051},{"az":189,"el":68,"s":0.043},{"az":198,"el":68,"s":0.054},{"az":207,"el":68,"s":0.046},{"az":216,"el":68,"s":0.040},{"az":225,"el":68,"s":0.049},{"az":234,"el":68,"s":0.055},{"az":243,"el":68,"s":0.044},{"az":252,"el":68,"s":0.038},{"az":261,"el":68,"s":0.055},{"az":270,"el":68,"s":0.050},{"az":279,"el":68,"s":0.045},{"az":288,"el":68,"s":0.056},{"az":297,"el":68,"s":0.052},{"az":306,"el":68,"s":0.041},{"az":315,"el":68,"s":0.053},{"az":324,"el":68,"s":0.061},{"az":333,"el":68,"s":0.050},{"az":342,"el":68,"s":0.053},{"az":351,"el":68,"s":0.047},
{"az":0,"el":71,"s":0.040},{"az":9,"el":71,"s":0.038},{"az":18,"el":71,"s":0.045},{"az":27,"el":71,"s":0.047},{"az":36,"el":71,"s":0.041},{"az":45,"el":71,"s":0.034},{"az":54,"el":71,"s":0.041},{"az":63,"el":71,"s":0.039},{"az":72,"el":71,"s":0.043},{"az":81,"el":71,"s":0.036},{"az":90,"el":71,"s":0.040},{"az":99,"el":71,"s":0.044},{"az":108,"el":71,"s":0.033},{"az":117,"el":71,"s":0.031},{"az":126,"el":71,"s":0.038},{"az":135,"el":71,"s":0.035},{"az":144,"el":71,"s":0.032},{"az":153,"el":71,"s":0.041},{"az":162,"el":71,"s":0.037},{"az":171,"el":71,"s":0.034},{"az":180,"el":71,"s":0.031},{"az":189,"el":71,"s":0.038},{"az":198,"el":71,"s":0.035},{"az":207,"el":71,"s":0.033},{"az":216,"el":71,"s":0.039},{"az":225,"el":71,"s":0.032},{"az":234,"el":71,"s":0.039},{"az":243,"el":71,"s":0.034},{"az":252,"el":71,"s":0.037},{"az":261,"el":71,"s":0.043},{"az":270,"el":71,"s":0.034},{"az":279,"el":71,"s":0.038},{"az":288,"el":71,"s":0.041},{"az":297,"el":71,"s":0.036},{"az":306,"el":71,"s":0.033},{"az":315,"el":71,"s":0.042},{"az":324,"el":71,"s":0.041},{"az":333,"el":71,"s":0.037},{"az":342,"el":71,"s":0.046},{"az":351,"el":71,"s":0.040},
{"az":0,"el":74,"s":0.041},{"az":9,"el":74,"s":0.038},{"az":18,"el":74,"s":0.031},{"az":27,"el":74,"s":0.039},{"az":36,"el":74,"s":0.042},{"az":45,"el":74,"s":0.032},{"az":54,"el":74,"s":0.034},{"az":63,"el":74,"s":0.030},{"az":72,"el":74,"s":0.037},{"az":81,"el":74,"s":0.040},{"az":90,"el":74,"s":0.031},{"az":99,"el":74,"s":0.033},{"az":108,"el":74,"s":0.034},{"az":117,"el":74,"s":0.025},{"az":126,"el":74,"s":0.032},{"az":135,"el":74,"s":0.030},{"az":144,"el":74,"s":0.028},{"az":153,"el":74,"s":0.035},{"az":162,"el":74,"s":0.026},{"az":171,"el":74,"s":0.031},{"az":180,"el":74,"s":0.033},{"az":189,"el":74,"s":0.027},{"az":198,"el":74,"s":0.030},{"az":207,"el":74,"s":0.034},{"az":216,"el":74,"s":0.029},{"az":225,"el":74,"s":0.025},{"az":234,"el":74,"s":0.032},{"az":243,"el":74,"s":0.031},{"az":252,"el":74,"s":0.033},{"az":261,"el":74,"s":0.031},{"az":270,"el":74,"s":0.038},{"az":279,"el":74,"s":0.033},{"az":288,"el":74,"s":0.029},{"az":297,"el":74,"s":0.035},{"az":306,"el":74,"s":0.039},{"az":315,"el":74,"s":0.032},{"az":324,"el":74,"s":0.030},{"az":333,"el":74,"s":0.038},{"az":342,"el":74,"s":0.035},{"az":351,"el":74,"s":0.032},
{"az":0,"el":77,"s":0.035},{"az":9,"el":77,"s":0.030},{"az":18,"el":77,"s":0.027},{"az":27,"el":77,"s":0.036},{"az":36,"el":77,"s":0.033},{"az":45,"el":77,"s":0.026},{"az":54,"el":77,"s":0.035},{"az":63,"el":77,"s":0.029},{"az":72,"el":77,"s":0.027},{"az":81,"el":77,"s":0.025},{"az":90,"el":77,"s":0.032},{"az":99,"el":77,"s":0.034},{"az":108,"el":77,"s":0.024},{"az":117,"el":77,"s":0.020},{"az":126,"el":77,"s":0.027},{"az":135,"el":77,"s":0.025},{"az":144,"el":77,"s":0.029},{"az":153,"el":77,"s":0.022},{"az":162,"el":77,"s":0.026},{"az":171,"el":77,"s":0.030},{"az":180,"el":77,"s":0.023},{"az":189,"el":77,"s":0.021},{"az":198,"el":77,"s":0.028},{"az":207,"el":77,"s":0.025},{"az":216,"el":77,"s":0.022},{"az":225,"el":77,"s":0.031},{"az":234,"el":77,"s":0.027},{"az":243,"el":77,"s":0.024},{"az":252,"el":77,"s":0.021},{"az":261,"el":77,"s":0.031},{"az":270,"el":77,"s":0.028},{"az":279,"el":77,"s":0.026},{"az":288,"el":77,"s":0.032},{"az":297,"el":77,"s":0.025},{"az":306,"el":77,"s":0.032},{"az":315,"el":77,"s":0.027},{"az":324,"el":77,"s":0.032},{"az":333,"el":77,"s":0.035},{"az":342,"el":77,"s":0.026},{"az":351,"el":77,"s":0.030},
{"az":0,"el":80,"s":0.032},{"az":9,"el":80,"s":0.036},{"az":18,"el":80,"s":0.029},{"az":27,"el":80,"s":0.025},{"az":36,"el":80,"s":0.033},{"az":45,"el":80,"s":0.027},{"az":54,"el":80,"s":0.024},{"az":63,"el":80,"s":0.031},{"az":72,"el":80,"s":0.028},{"az":81,"el":80,"s":0.021},{"az":90,"el":80,"s":0.029},{"az":99,"el":80,"s":0.032},{"az":108,"el":80,"s":0.021},{"az":117,"el":80,"s":0.023},{"az":126,"el":80,"s":0.019},{"az":135,"el":80,"s":0.026},{"az":144,"el":80,"s":0.029},{"az":153,"el":80,"s":0.020},{"az":162,"el":80,"s":0.022},{"az":171,"el":80,"s":0.027},{"az":180,"el":80,"s":0.018},{"az":189,"el":80,"s":0.025},{"az":198,"el":80,"s":0.023},{"az":207,"el":80,"s":0.021},{"az":216,"el":80,"s":0.028},{"az":225,"el":80,"s":0.019},{"az":234,"el":80,"s":0.024},{"az":243,"el":80,"s":0.026},{"az":252,"el":80,"s":0.020},{"az":261,"el":80,"s":0.026},{"az":270,"el":80,"s":0.030},{"az":279,"el":80,"s":0.025},{"az":288,"el":80,"s":0.021},{"az":297,"el":80,"s":0.028},{"az":306,"el":80,"s":0.027},{"az":315,"el":80,"s":0.029},{"az":324,"el":80,"s":0.026},{"az":333,"el":80,"s":0.033},{"az":342,"el":80,"s":0.028},{"az":351,"el":80,"s":0.024},
{"az":0,"el":83,"s":0.024},{"az":9,"el":83,"s":0.031},{"az":18,"el":83,"s":0.026},{"az":27,"el":83,"s":0.029},{"az":36,"el":83,"s":0.032},{"az":45,"el":83,"s":0.020},{"az":54,"el":83,"s":0.024},{"az":63,"el":83,"s":0.027},{"az":72,"el":83,"s":0.022},{"az":81,"el":83,"s":0.019},{"az":90,"el":83,"s":0.028},{"az":99,"el":83,"s":0.025},{"az":108,"el":83,"s":0.017},{"az":117,"el":83,"s":0.026},{"az":126,"el":83,"s":0.020},{"az":135,"el":83,"s":0.018},{"az":144,"el":83,"s":0.016},{"az":153,"el":83,"s":0.023},{"az":162,"el":83,"s":0.025},{"az":171,"el":83,"s":0.019},{"az":180,"el":83,"s":0.015},{"az":189,"el":83,"s":0.022},{"az":198,"el":83,"s":0.020},{"az":207,"el":83,"s":0.024},{"az":216,"el":83,"s":0.017},{"az":225,"el":83,"s":0.021},{"az":234,"el":83,"s":0.025},{"az":243,"el":83,"s":0.018},{"az":252,"el":83,"s":0.016},{"az":261,"el":83,"s":0.026},{"az":270,"el":83,"s":0.023},{"az":279,"el":83,"s":0.020},{"az":288,"el":83,"s":0.029},{"az":297,"el":83,"s":0.025},{"az":306,"el":83,"s":0.022},{"az":315,"el":83,"s":0.019},{"az":324,"el":83,"s":0.028},{"az":333,"el":83,"s":0.025},{"az":342,"el":83,"s":0.023},{"az":351,"el":83,"s":0.029},
{"az":0,"el":86,"s":0.027},{"az":9,"el":86,"s":0.022},{"az":18,"el":86,"s":0.029},{"az":27,"el":86,"s":0.024},{"az":36,"el":86,"s":0.020},{"az":45,"el":86,"s":0.023},{"az":54,"el":86,"s":0.027},{"az":63,"el":86,"s":0.020},{"az":72,"el":86,"s":0.016},{"az":81,"el":86,"s":0.024},{"az":90,"el":86,"s":0.021},{"az":99,"el":86,"s":0.018},{"az":108,"el":86,"s":0.021},{"az":117,"el":86,"s":0.018},{"az":126,"el":86,"s":0.011},{"az":135,"el":86,"s":0.019},{"az":144,"el":86,"s":0.022},{"az":153,"el":86,"s":0.015},{"az":162,"el":86,"s":0.017},{"az":171,"el":86,"s":0.013},{"az":180,"el":86,"s":0.020},{"az":189,"el":86,"s":0.023},{"az":198,"el":86,"s":0.014},{"az":207,"el":86,"s":0.016},{"az":216,"el":86,"s":0.021},{"az":225,"el":86,"s":0.012},{"az":234,"el":86,"s":0.019},{"az":243,"el":86,"s":0.017},{"az":252,"el":86,"s":0.015},{"az":261,"el":86,"s":0.025},{"az":270,"el":86,"s":0.016},{"az":279,"el":86,"s":0.021},{"az":288,"el":86,"s":0.023},{"az":297,"el":86,"s":0.017},{"az":306,"el":86,"s":0.020},{"az":315,"el":86,"s":0.024},{"az":324,"el":86,"s":0.021},{"az":333,"el":86,"s":0.017},{"az":342,"el":86,"s":0.024},{"az":351,"el":86,"s":0.023}
]},
"mark":{"type":"rect"},
"encoding":{
"x":{"field":"az","type":"quantitative","bin":{"binned":true,"step":9},"scale":{"domain":[0,360],"nice":false,"zero":false},"axis":{"values":[0,50,100,150,200,250,300,350],"format":"d","title":"Azimuth rotation around the object(degrees)","titlePadding":12}},
"y":{"field":"el","type":"quantitative","bin":{"binned":true,"step":3},"scale":{"domain":[-10,89],"nice":false,"zero":false},"axis":{"values":[0,20,40,60,80],"format":"d","title":"Elevation angle of view-point","titlePadding":10}},
"color":{"field":"s","type":"quantitative","scale":{"domain":[0,0.0512,0.1024,0.1536,0.2048,0.256,0.3072,0.3584,0.4096,0.4608,0.512],"range":["#67001f","#b2182b","#d6604d","#f4a582","#fddbc7","#f7f7f7","#d1e5f0","#92c5de","#4393c3","#2166ac","#053061"],"interpolate":"rgb"},"legend":{"title":null,"orient":"right","offset":34,"padding":0,"gradientLength":452,"gradientThickness":21,"gradientStrokeColor":"black","gradientStrokeWidth":1.5,"values":[0,0.1,0.2,0.3,0.4,0.5],"format":".1f","labelFont":"DejaVu Sans","labelFontSize":20,"labelColor":"black","labelOffset":14,"labelOverlap":false,"encode":{"labels":{"update":{"baseline":{"value":"middle"}}}}}}
}
}
